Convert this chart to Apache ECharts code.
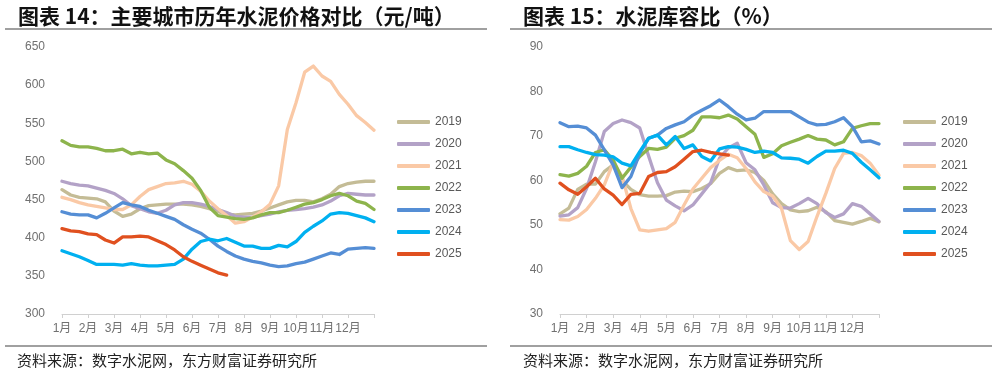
<!DOCTYPE html>
<html><head><meta charset="utf-8">
<script src="https://cdn.jsdelivr.net/npm/echarts@6/dist/echarts.min.js"></script>
<style>html,body{margin:0;padding:0;background:#fff}#c{width:997px;height:373px}</style>
</head><body><div id="c"></div>
<script>
// Series names (years) and month tick labels
const years = ['2019','2020','2021','2022','2023','2024','2025'];
const monthLabels = ['1月','2月','3月','4月','5月','6月','7月','8月','9月','10月','11月','12月'];
// Points are sampled three per month (上/中/下旬), index 0..36

// Chart 14: cement price (元/吨)
const price2019 = [463,456,453,452,451,447,435,428,431,438,442,443,444,444,444,443,441,438,434,431,430,431,432,435,439,443,447,449,449,447,451,457,467,471,473,474,474];
const price2020 = [474,471,469,468,465,462,458,451,442,438,434,432,436,443,446,446,444,441,437,433,428,427,427,429,431,434,436,437,438,440,443,448,455,458,457,456,456];
const price2021 = [453,450,446,443,441,439,437,437,443,454,463,467,471,472,474,470,461,448,438,429,419,421,427,434,444,468,542,577,617,625,612,605,588,575,560,551,541];
const price2022 = [527,521,519,519,517,514,514,516,510,512,510,511,502,497,488,478,462,440,429,427,425,424,426,430,433,433,436,440,444,446,450,455,458,455,448,445,437];
const price2023 = [434,431,430,430,426,432,439,446,443,441,436,432,428,424,417,411,406,398,389,382,376,372,369,367,364,362,363,366,368,372,376,380,378,385,386,387,386];
const price2024 = [383,379,375,370,365,365,365,364,366,364,363,363,364,365,372,385,395,398,396,399,394,389,389,386,386,390,388,395,407,415,422,431,433,432,429,426,421];
const price2025 = [412,409,408,405,404,397,393,401,401,402,401,396,391,384,375,369,364,359,354,351];

// Chart 15: cement storage ratio (%)
const stock2019 = [52.5,53.8,58,59.2,59.2,62,63.5,60,58,56.8,56.5,56.5,56.6,57.4,57.6,57.5,58.2,59.3,61.6,62.9,62.2,62.4,61.8,60,57,54.8,53.4,53,53.2,54,53,51,50.6,50.2,50.8,51.5,50.7];
const stock2020 = [52,52.3,53.9,58.2,64.2,71,72.8,73.6,73,71.8,65.5,59.5,55.6,54.3,53.2,54.5,57,59.5,65,67.3,68.4,64,62.4,59,55,53.9,53.8,54.8,56,54.8,52.8,51.7,52.5,54.8,54.2,52.5,50.8];
const stock2021 = [51.2,51.1,51.9,53.5,56,59,64,61,53.7,48.9,48.6,48.9,49.2,50.6,54.5,58.1,60.5,62.9,64.5,65.9,65.1,62.7,59.7,57.5,56.5,53.7,46.5,44.5,46.3,51.9,57.1,62.7,66.1,66.3,65.6,63.9,61.2];
const stock2022 = [61.3,61,61.6,63.2,66.3,66.9,64.6,60.5,63,65.4,67.2,67,67.5,69.5,70.1,71.3,74.3,74.3,74.1,74.7,73.8,72.1,70.4,65.2,66,67.8,68.6,69.3,70.1,69.3,69.1,68,68.7,71.7,72.3,72.8,72.8];
const stock2023 = [73,72.1,72.2,71.8,70.2,66.9,63.5,58.4,60.9,66.1,69.5,70.2,71.7,72.5,73.2,74.7,75.8,76.8,78.1,76.6,74.9,73.6,74,75.5,75.5,75.5,75.5,74.3,73.1,72.5,72.6,73.2,74.1,72.1,68.7,68.9,68.2];
const stock2024 = [67.6,67.6,66.9,66.3,65.8,65.7,65.3,63.9,63.3,66.5,69.5,70.2,68,69.9,67.2,68,65.4,64.4,67.1,67.6,67.5,67,66.3,66.6,66.3,65.1,65,64.8,63.9,65.4,66.6,66.6,66.8,66.1,64.1,62.4,60.6];
const stock2025 = [59.4,57.9,56.9,58.6,60.5,58.1,56.7,54.6,56.9,57.1,60.9,61.8,62,63.1,64.8,66.5,66.8,66.3,66,65.7];

const priceSeries = [price2019,price2020,price2021,price2022,price2023,price2024,price2025];
const stockSeries = [stock2019,stock2020,stock2021,stock2022,stock2023,stock2024,stock2025];
const colors = ['#C4BC96','#B3A2C7','#FAC9A6','#8DB44C','#558ED5','#00B0F0','#E0501F'];

const axisFont = '"Liberation Sans","Noto Sans CJK SC",sans-serif';
const cjkFont = '"Noto Sans CJK SC",sans-serif';

function xAxisCfg(gi){
  return {
    type:'value', gridIndex:gi, min:0, max:36, interval:3,
    axisLine:{show:true, lineStyle:{color:'#d0d0d0', width:1}},
    axisTick:{show:true, length:4, lineStyle:{color:'#d0d0d0'}},
    splitLine:{show:false},
    axisLabel:{color:'#707070', fontSize:12, fontFamily:axisFont, margin:9,
      formatter:v=>monthLabels[v/3]||''}
  };
}
function yAxisCfg(gi,min,max,interval){
  return {
    type:'value', gridIndex:gi, min:min, max:max, interval:interval,
    axisLine:{show:false}, axisTick:{show:false}, splitLine:{show:false},
    axisLabel:{color:'#707070', fontSize:12, fontFamily:axisFont, margin:17}
  };
}
function legendCfg(left){
  return {
    orient:'vertical', left:left, top:115, padding:0,
    itemWidth:33, itemHeight:4, itemGap:8, icon:'roundRect',
    textStyle:{fontSize:12, color:'#595959', fontFamily:axisFont, lineHeight:14},
    data:years
  };
}

const series = [];
years.forEach((y,i)=>{
  series.push({type:'line', name:y, xAxisIndex:0, yAxisIndex:0,
    data:priceSeries[i].map((v,k)=>[k,v]), showSymbol:false, symbol:'none',
    lineStyle:{width:3.3, color:colors[i], cap:'round', join:'round'}, itemStyle:{color:colors[i]}});
});
years.forEach((y,i)=>{
  series.push({type:'line', name:y, xAxisIndex:1, yAxisIndex:1,
    data:stockSeries[i].map((v,k)=>[k,v]), showSymbol:false, symbol:'none',
    lineStyle:{width:3.3, color:colors[i], cap:'round', join:'round'}, itemStyle:{color:colors[i]}});
});

const chart = echarts.init(document.getElementById('c'));
chart.setOption({
  animation:false,
  backgroundColor:'#fff',
  grid:[
    {left:62, top:47, width:312, height:267},
    {left:560, top:47, width:319, height:267}
  ],
  xAxis:[xAxisCfg(0), xAxisCfg(1)],
  yAxis:[yAxisCfg(0,300,650,50), yAxisCfg(1,30,90,10)],
  legend:[legendCfg(397), legendCfg(903)],
  series:series,
  graphic:[
    {type:'text', style:{text:'图表 14：主要城市历年水泥价格对比（元/吨）', x:18, y:16, verticalAlign:'middle', font:'bold 21px '+cjkFont, fill:'#111'}},
    {type:'text', style:{text:'图表 15：水泥库容比（%）', x:523, y:16, verticalAlign:'middle', font:'bold 21px '+cjkFont, fill:'#111'}},
    {type:'line', shape:{x1:5,y1:29,x2:487,y2:29}, style:{stroke:'#808080', lineWidth:1.5}},
    {type:'line', shape:{x1:510,y1:29,x2:992,y2:29}, style:{stroke:'#808080', lineWidth:1.5}},
    {type:'line', shape:{x1:5,y1:346,x2:487,y2:346}, style:{stroke:'#808080', lineWidth:1.5}},
    {type:'line', shape:{x1:510,y1:346,x2:992,y2:346}, style:{stroke:'#808080', lineWidth:1.5}},
    {type:'text', style:{text:'资料来源：数字水泥网，东方财富证券研究所', x:17, y:360, verticalAlign:'middle', font:'15px '+cjkFont, fill:'#222'}},
    {type:'text', style:{text:'资料来源：数字水泥网，东方财富证券研究所', x:523, y:360, verticalAlign:'middle', font:'15px '+cjkFont, fill:'#222'}}
  ]
});
</script>
</body></html>
